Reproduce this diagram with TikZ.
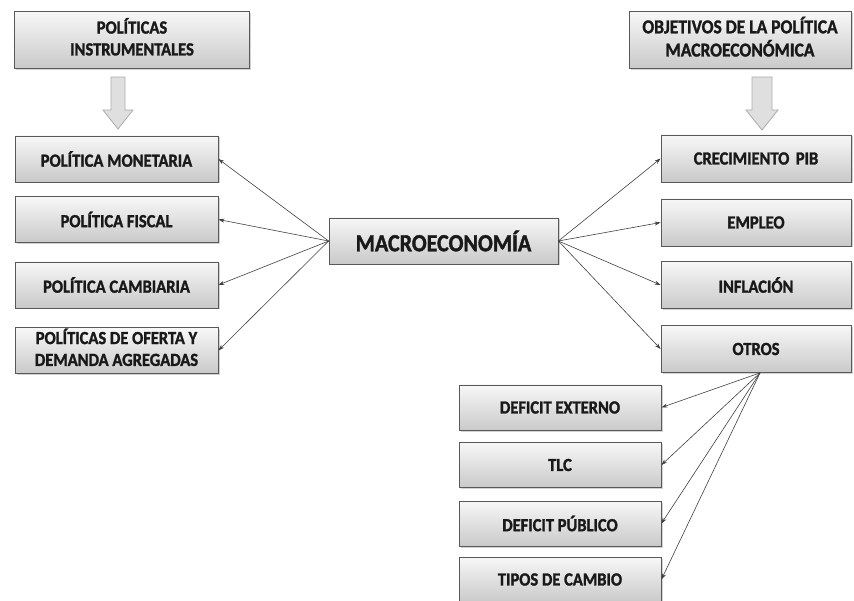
\documentclass[tikz,border=0pt]{standalone}
\usepackage{fontspec}
\setmainfont{Carlito}[BoldFeatures={FakeBold=1.6}]
\usepackage{graphicx}
\usetikzlibrary{arrows.meta,shadows,calc}

\newcommand\tall[1]{\scalebox{1}[1.12]{#1}}

\tikzset{
  box/.style={draw=gray!70!black, line width=0.8pt, inner sep=0pt,
    top color=gray!6, bottom color=gray!42, drop shadow={shadow xshift=1.5pt, shadow yshift=-1.5pt, opacity=0.35},
    font=\fontsize{16.5}{19.5}\selectfont\bfseries, text=black!90, align=center},
  leftbox/.style={box, minimum width=203pt, minimum height=46pt},
  rightbox/.style={box, minimum width=190pt, minimum height=47pt},
  subbox/.style={box, minimum width=202pt, minimum height=45pt},
  link/.style={draw=gray!50!black, line width=0.6pt, -{Stealth[length=6pt,width=4pt]}},
  bigarrow/.style={draw=gray!65, line width=0.8pt, fill=gray!25}
}

\begin{document}
\begin{tikzpicture}[x=1pt,y=-1pt]
\useasboundingbox (0,0) rectangle (854,601);

% header boxes
\node[box, minimum width=235pt, minimum height=57pt] (pi) at (132,40)
  {\tall{\begin{tabular}{@{}c@{}}POLÍTICAS\\INSTRUMENTALES\end{tabular}}};
\node[box, minimum width=222pt, minimum height=57pt, font=\fontsize{17.5}{20}\selectfont\bfseries] (obj) at (740,40)
  {\tall{\begin{tabular}{@{}c@{}}OBJETIVOS DE LA POLÍTICA\\MACROECONÓMICA\end{tabular}}};

% hollow down arrows below the headers
\draw[bigarrow] (111,77) -- (125,77) -- (125,110) -- (133,110) -- (118,129)
  -- (103,110) -- (111,110) -- cycle;
\draw[bigarrow] (752,77) -- (772,77) -- (772,110) -- (778,110) -- (762,130)
  -- (746,110) -- (752,110) -- cycle;

% instruments
\node[leftbox] (pm) at (116.5,159) {\tall{POLÍTICA MONETARIA}};
\node[leftbox] (pf) at (116.5,219.5) {\tall{POLÍTICA FISCAL}};
\node[leftbox] (pc) at (116.5,285) {\tall{POLÍTICA CAMBIARIA}};
\node[leftbox] (po) at (116.5,350.5)
  {\tall{\begin{tabular}{@{}c@{}}POLÍTICAS DE OFERTA Y\\DEMANDA AGREGADAS\end{tabular}}};

% centre
\node[box, minimum width=229pt, minimum height=46pt, font=\fontsize{22}{24}\selectfont\bfseries] (mac) at (443.5,241)
  {\tall{MACROECONOMÍA}};

% objectives
\node[rightbox] (cre) at (756,158.5) {\tall{CRECIMIENTO\, PIB}};
\node[rightbox] (emp) at (756,222.5) {\tall{EMPLEO}};
\node[rightbox] (inf) at (756,285) {\tall{INFLACIÓN}};
\node[rightbox] (otr) at (756,349) {\tall{OTROS}};

% other objectives
\node[subbox] (de) at (560,407.5) {\tall{DEFICIT EXTERNO}};
\node[subbox] (tlc) at (560,465) {\tall{TLC}};
\node[subbox] (dp) at (560,523.5) {\tall{DEFICIT PÚBLICO}};
\node[subbox] (tc) at (560,579.5) {\tall{TIPOS DE CAMBIO}};

% connectors
\foreach \t in {pm,pf,pc,po} \draw[link] (mac.west) -- (\t.east);
\foreach \t in {cre,emp,inf,otr} \draw[link] (mac.east) -- (\t.west);
\coordinate (fan) at ($(otr.south)+(4,0)$);
\foreach \t in {de,tlc,dp,tc} \draw[link] (fan) -- (\t.east);
\end{tikzpicture}
\end{document}
